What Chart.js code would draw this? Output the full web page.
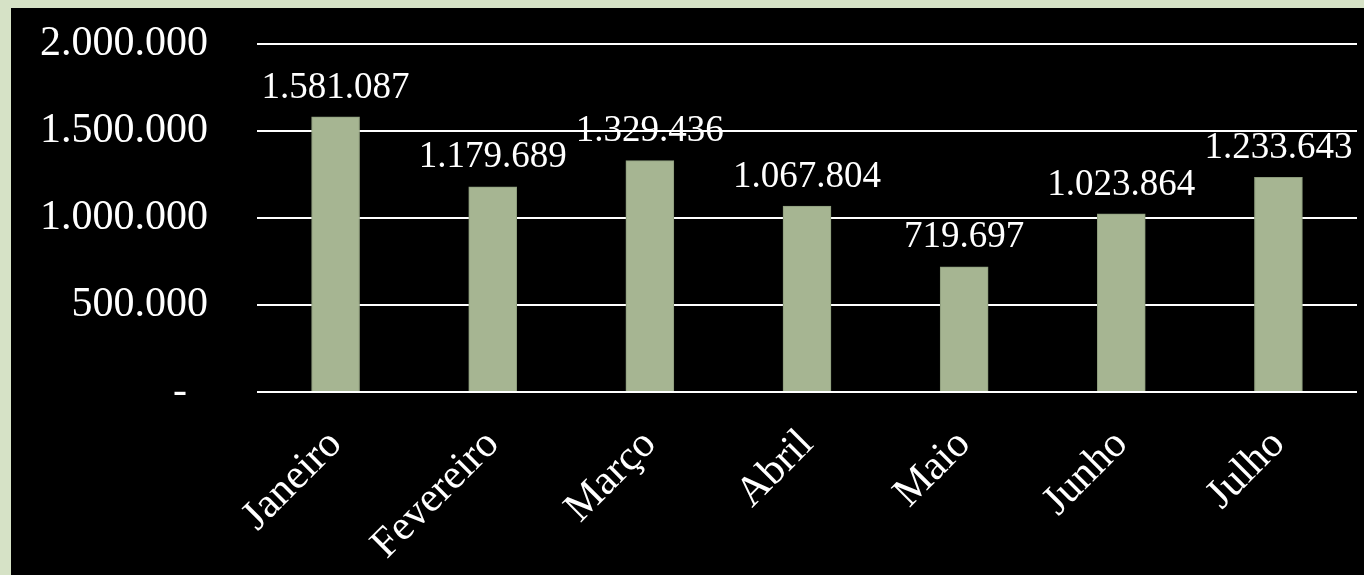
<!DOCTYPE html>
<html>
<head>
    <title>Vendas por mês</title>
    <meta charset="UTF-8">
    <style>
        html, body {
            margin: 0;
            padding: 0;
            background: #d6e2c6;
            overflow: hidden;
        }
        .chart-container {
            position: absolute;
            left: 11px;
            top: 8px;
            width: 1353px;
            height: 567px;
            background: #000000;
        }
    </style>
    <script src="https://cdn.jsdelivr.net/npm/chart.js"></script>
    <script>
        const months = ['Janeiro', 'Fevereiro', 'Março', 'Abril', 'Maio', 'Junho', 'Julho'];
        const values = [1581087, 1179689, 1329436, 1067804, 719697, 1023864, 1233643];
        const yTicks = [0, 500000, 1000000, 1500000, 2000000];

        const serif = "'Liberation Serif', 'Times New Roman', serif";

        // 1234567 -> "1.234.567"
        function formatPt(v) {
            return String(Math.round(v)).replace(/\B(?=(\d{3})+(?!\d))/g, '.');
        }

        // draws the value above each bar
        const valueLabels = {
            id: 'valueLabels',
            afterDatasetsDraw(chart) {
                const ctx = chart.ctx;
                const meta = chart.getDatasetMeta(0);
                ctx.save();
                ctx.fillStyle = '#ffffff';
                ctx.font = '37px ' + serif;
                ctx.textAlign = 'center';
                ctx.textBaseline = 'middle';
                meta.data.forEach((bar, i) => {
                    ctx.fillText(formatPt(values[i]), bar.x, bar.y - 29);
                });
                ctx.restore();
            }
        };

        window.onload = function () {
            const ctx = document.getElementById('myChart').getContext('2d');
            new Chart(ctx, {
                type: 'bar',
                data: {
                    labels: months,
                    datasets: [{
                        label: '',
                        data: values,
                        backgroundColor: '#a6b592',
                        borderColor: '#8d9c7c',
                        borderWidth: 1,
                        barThickness: 48
                    }]
                },
                options: {
                    responsive: false,
                    animation: false,
                    layout: {
                        padding: { top: 36, right: 7, bottom: 0, left: 0 }
                    },
                    plugins: {
                        legend: { display: false },
                        tooltip: { enabled: false }
                    },
                    scales: {
                        x: {
                            grid: { display: false, drawTicks: false },
                            border: { display: false },
                            ticks: {
                                color: '#ffffff',
                                font: { family: serif, size: 42 },
                                minRotation: 45,
                                maxRotation: 45,
                                padding: 28
                            },
                            afterFit: function (scale) { scale.height = 183; }
                        },
                        y: {
                            min: 0,
                            max: 2000000,
                            afterBuildTicks: function (scale) {
                                scale.ticks = yTicks.map(v => ({ value: v }));
                            },
                            grid: { color: '#ffffff', lineWidth: 2, drawTicks: false },
                            border: { display: false },
                            ticks: {
                                color: '#ffffff',
                                font: { family: serif, size: 42 },
                                padding: 49,
                                callback: function (value) {
                                    return value === 0 ? '-  ' : formatPt(value);
                                }
                            },
                            afterFit: function (scale) {
                                scale.width = 246;
                                scale.paddingTop = 0;
                                scale.paddingBottom = 0;
                            }
                        }
                    }
                },
                plugins: [valueLabels]
            });
        };
    </script>
</head>
<body>
<div class="chart-container">
    <canvas id="myChart" width="1353" height="567"></canvas>
</div>
</body>
</html>
